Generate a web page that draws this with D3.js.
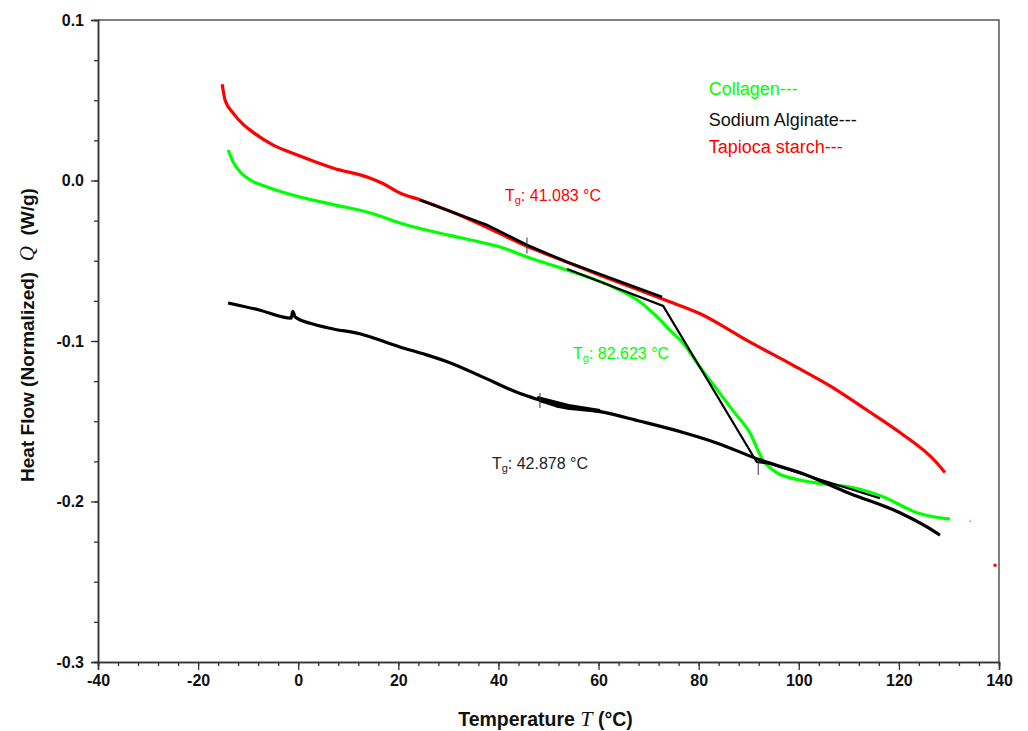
<!DOCTYPE html>
<html>
<head>
<meta charset="utf-8">
<script src="https://cdn.jsdelivr.net/npm/d3@7"></script>
<style>
  body { margin: 0; background: white; }
  svg { font-family: Arial, "Liberation Sans", sans-serif; }
</style>
</head>
<body>
<div id="chart"></div>
<script>
// curves: [temperature °C, heat flow W/g]
const tapioca = [
  [-15.2, 0.060], [-14.6, 0.050], [-13.0, 0.042], [-11.0, 0.035], [-9.0, 0.030], [-5.0, 0.022],
  [-0.3, 0.016], [6.9, 0.0078], [14.3, 0.0016], [17.0, -0.002], [20.3, -0.0078], [24.3, -0.012],
  [31.0, -0.020], [38.9, -0.031], [45.7, -0.041], [53.0, -0.050], [60.3, -0.059], [67.0, -0.067],
  [73.3, -0.0745], [80.3, -0.083], [90.2, -0.1006], [98.8, -0.115], [106.8, -0.129],
  [113.6, -0.143], [120.2, -0.157], [127.6, -0.176], [129.2, -0.182]
]
const collagen = [
  [-14.0, 0.019], [-13.0, 0.0115], [-11.5, 0.005], [-9.6, 0.0003], [-6.2, -0.004], [0.35, -0.0103],
  [7.0, -0.015], [13.7, -0.0196], [15.7, -0.0215], [20.3, -0.0265], [30.0, -0.034], [36.3, -0.0383],
  [40.3, -0.0414], [46.3, -0.0483], [53.7, -0.0558], [62.9, -0.0664], [68.3, -0.0757],
  [71.7, -0.085], [74.5, -0.094], [76.9, -0.1013], [80.0, -0.115], [83.6, -0.130], [87.0, -0.144],
  [90.2, -0.157], [92.8, -0.174], [95.6, -0.182], [100.2, -0.1866], [105.0, -0.189],
  [110.2, -0.191], [116.8, -0.197], [123.6, -0.207], [130.2, -0.211]
]
const alginate = [
  [-14.0, -0.0763], [-8.0, -0.0805], [-1.4, -0.0858], [-1.1, -0.0815], [-0.6, -0.0851],
  [2.4, -0.089], [7.0, -0.0925], [12.3, -0.0955], [14.9, -0.098], [20.3, -0.1037], [25.0, -0.108],
  [30.3, -0.1135], [36.9, -0.1225], [43.7, -0.132], [48.3, -0.137], [52.3, -0.141], [60.3, -0.144],
  [68.3, -0.150], [76.9, -0.157], [83.6, -0.1635], [92.2, -0.174], [100.2, -0.182],
  [110.2, -0.195], [120.2, -0.207], [127.6, -0.2197], [128.2, -0.221]
]

// Tg construction lines (black)
const tapiocaTangent = [[24.3, -0.0121], [37.7, -0.0277], [45.7, -0.0402], [53.7, -0.0508], [72.7, -0.0726]]
const collagenTangent = [[53.7, -0.0551], [72.9, -0.0782], [91.6, -0.1754], [93.8, -0.1762], [116.2, -0.198]]
const alginateTangent = [[47.7, -0.1355], [54.0, -0.1405], [60.3, -0.1436]]
const tgMarks = [[45.7, -0.0355, -0.0455], [48.3, -0.1324, -0.1417], [91.9, -0.1754, -0.1835]]
const strayDots = [[139.2, -0.2397, 'red'], [134.4, -0.2128, '#00ff00']]

const tgLabels = [
  { x: 41.3, y: -0.0128, value: ': 41.083 °C', color: '#ff0000' },
  { x: 54.9, y: -0.1112, value: ': 82.623 °C', color: '#00ff00' },
  { x: 38.7, y: -0.1797, value: ': 42.878 °C', color: '#222222' }
]
const legendNames = ['Collagen---', 'Sodium Alginate---', 'Tapioca starch---']
const legendColors = ['#00ff00', '#111111', '#ff0000']

const xTicks = [-40, -20, 0, 20, 40, 60, 80, 100, 120, 140]
const yTicks = [0.1, 0.0, -0.1, -0.2, -0.3]

const width = 1028
const height = 731
const margin = { left: 98, right: 29, top: 20, bottom: 69 }

const svg = d3.select('#chart').append('svg')
  .attr('width', width)
  .attr('height', height)

const xScale = d3.scaleLinear().domain([-40, 140]).range([margin.left, width - margin.right])
const yScale = d3.scaleLinear().domain([-0.3, 0.1]).range([height - margin.bottom, margin.top])

// frame (top and right)
svg.append('path')
  .attr('d', 'M' + xScale(-40) + ',' + yScale(0.1) + 'H' + xScale(140) + 'V' + yScale(-0.3))
  .attr('fill', 'none')
  .attr('stroke', '#555')
  .attr('stroke-width', 1.5)

// minor ticks
const minorX = d3.range(-40, 141, 4)
const minorY = d3.range(-0.3, 0.1001, 0.025)
svg.append('g')
  .attr('transform', 'translate(0,' + yScale(-0.3) + ')')
  .call(d3.axisBottom(xScale).tickValues(minorX).tickSize(4).tickFormat(''))
svg.append('g')
  .attr('transform', 'translate(' + xScale(-40) + ',0)')
  .call(d3.axisLeft(yScale).tickValues(minorY).tickSize(4).tickFormat(''))

svg.append('g')
  .attr('transform', 'translate(0,' + yScale(-0.3) + ')')
  .call(d3.axisBottom(xScale).tickValues(xTicks).tickSize(8).tickPadding(5).tickFormat(d => String(d)))
svg.append('g')
  .attr('transform', 'translate(' + xScale(-40) + ',0)')
  .call(d3.axisLeft(yScale).tickValues(yTicks).tickSize(7).tickPadding(7).tickFormat(d => d.toFixed(1)))

svg.selectAll('.domain').attr('stroke', '#333').attr('stroke-width', 1.5)
svg.selectAll('.tick line').attr('stroke', '#333').attr('stroke-width', 1.3)
svg.selectAll('.tick text')
  .attr('font-family', 'Arial, "Liberation Sans", sans-serif')
  .attr('font-size', 16)
  .attr('font-weight', 'bold')
  .attr('fill', '#111')

const line = d3.line()
  .x(d => xScale(d[0]))
  .y(d => yScale(d[1]))
  .curve(d3.curveMonotoneX)

const curves = [[tapioca, '#ff0000'], [collagen, '#00ff00'], [alginate, '#000000']]
curves.forEach(c => {
  svg.append('path')
    .datum(c[0])
    .attr('d', line)
    .attr('fill', 'none')
    .attr('stroke', c[1])
    .attr('stroke-width', 3.2)
    .attr('stroke-linejoin', 'round')
})

const straight = d3.line().x(d => xScale(d[0])).y(d => yScale(d[1]))
const tangents = [[tapiocaTangent, 2.6], [collagenTangent, 2.2], [alginateTangent, 4]]
tangents.forEach(t => {
  svg.append('path')
    .datum(t[0])
    .attr('d', straight)
    .attr('fill', 'none')
    .attr('stroke', '#000')
    .attr('stroke-width', t[1])
})

tgMarks.forEach(m => {
  svg.append('line')
    .attr('x1', xScale(m[0])).attr('x2', xScale(m[0]))
    .attr('y1', yScale(m[1])).attr('y2', yScale(m[2]))
    .attr('stroke', '#333')
    .attr('stroke-width', 1)
})

strayDots.forEach(p => {
  svg.append('rect')
    .attr('x', xScale(p[0]) - 1.5).attr('y', yScale(p[1]) - 1.5)
    .attr('width', p[2] === 'red' ? 3 : 1.5).attr('height', p[2] === 'red' ? 3 : 1.5)
    .attr('fill', p[2])
})

// Tg labels
tgLabels.forEach(l => {
  const t = svg.append('text')
    .attr('x', xScale(l.x))
    .attr('y', yScale(l.y))
    .attr('font-size', 16)
    .attr('fill', l.color)
  t.append('tspan').text('T')
  t.append('tspan').attr('font-size', 11).attr('dy', 3).text('g')
  t.append('tspan').attr('dy', -3).text(l.value)
})

// legend
legendNames.forEach((name, i) => {
  svg.append('text')
    .attr('x', xScale(82))
    .attr('y', [95, 126, 153][i])
    .attr('font-size', 18)
    .attr('fill', legendColors[i])
    .text(name)
})

// axis titles
const yTitle = svg.append('text')
  .attr('transform', 'translate(34,' + 335 + ') rotate(-90)')
  .attr('text-anchor', 'middle')
  .attr('font-size', 19)
  .attr('font-weight', 'bold')
  .attr('fill', '#111')
yTitle.append('tspan').text('Heat Flow (Normalized)\u00a0 ')
yTitle.append('tspan').attr('font-family', '"Liberation Serif", "DejaVu Serif", serif').attr('font-style', 'italic').attr('font-weight', 'normal').attr('font-size', 21).text('Q')
yTitle.append('tspan').text('\u00a0 (W/g)')

const xTitle = svg.append('text')
  .attr('x', (xScale(-40) + xScale(140)) / 2 - 3)
  .attr('y', 726)
  .attr('text-anchor', 'middle')
  .attr('font-size', 19.5)
  .attr('font-weight', 'bold')
  .attr('fill', '#111')
xTitle.append('tspan').text('Temperature ')
xTitle.append('tspan').attr('font-family', '"Liberation Serif", "DejaVu Serif", serif').attr('font-style', 'italic').attr('font-weight', 'normal').attr('font-size', 22).text('T')
xTitle.append('tspan').text(' (°C)')
</script>
</body>
</html>
